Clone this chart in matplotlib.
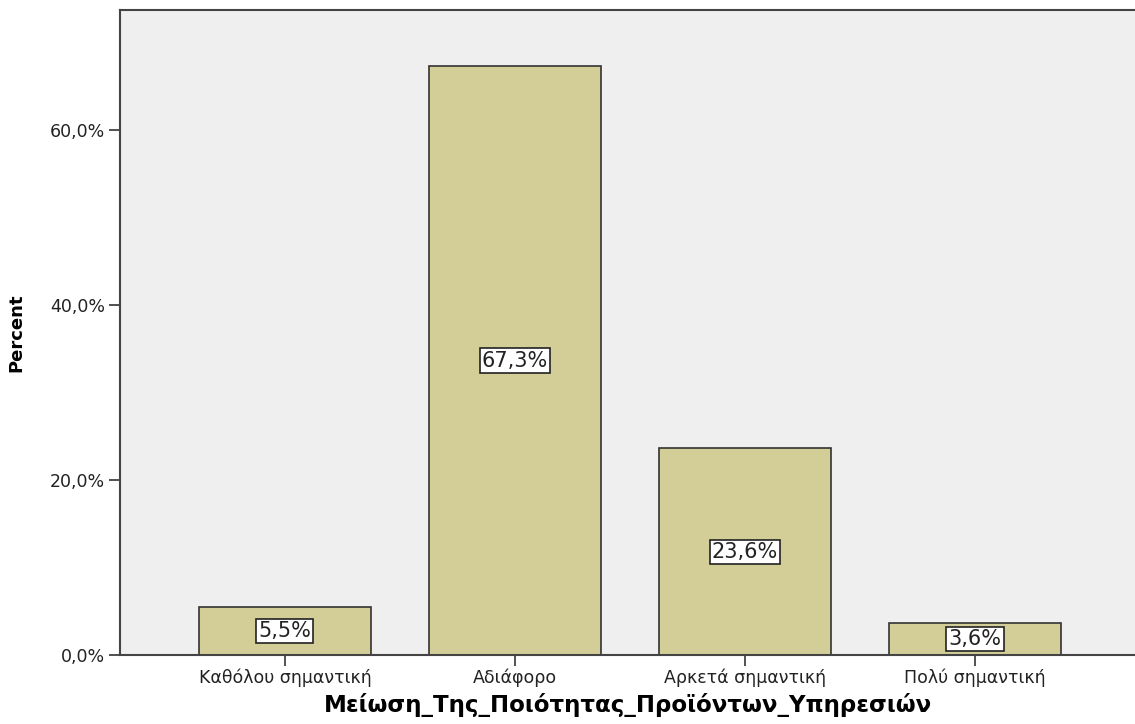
import matplotlib.pyplot as plt

# Data
categories = ['Καθόλου σημαντική', 'Αδιάφορο', 'Αρκετά σημαντική', 'Πολύ σημαντική']
percents = [5.5, 67.3, 23.6, 3.6]
ytick_vals = [0, 20, 40, 60]
ytick_labels = ['0,0%', '20,0%', '40,0%', '60,0%']

plt.rcParams['font.family'] = ['DejaVu Sans']

fig = plt.figure(figsize=(11.35, 7.24), dpi=100)
ax = fig.add_axes([120 / 1135, 69 / 724, 1 - 120 / 1135, 645 / 724])
ax.set_facecolor('#efefef')

x = range(len(categories))
ax.bar(x, percents, width=0.75, color='#d3ce97', edgecolor='#333333', linewidth=1.2, zorder=2)

for xi, p in zip(x, percents):
    ax.text(xi, p / 2, f'{p:.1f}%'.replace('.', ','), ha='center', va='center', fontsize=15,
            color='#222222', zorder=3,
            bbox=dict(boxstyle='square,pad=0.1', facecolor='white', edgecolor='#222222', linewidth=1.2))

ax.set_xlim(-0.717, 3.696)
ax.set_ylim(0, 73.7)
ax.set_xticks(list(x))
ax.set_xticklabels(categories, fontsize=12.5, color='#222222')
ax.set_yticks(ytick_vals)
ax.set_yticklabels(ytick_labels, fontsize=12.5, color='#222222')
ax.tick_params(axis='both', direction='out', length=8, width=1.2, color='#333333', pad=3)
ax.tick_params(axis='x', pad=2)

for side in ['left', 'top', 'bottom']:
    ax.spines[side].set_color('#444444')
    ax.spines[side].set_linewidth(1.5)
ax.spines['right'].set_visible(False)

ax.set_ylabel('Percent', fontsize=13, fontweight='bold', labelpad=17)
ax.set_xlabel('Μείωση_Της_Ποιότητας_Προϊόντων_Υπηρεσιών', fontsize=16.5, fontweight='bold', labelpad=4)

fig.savefig('out.png', dpi=100)
